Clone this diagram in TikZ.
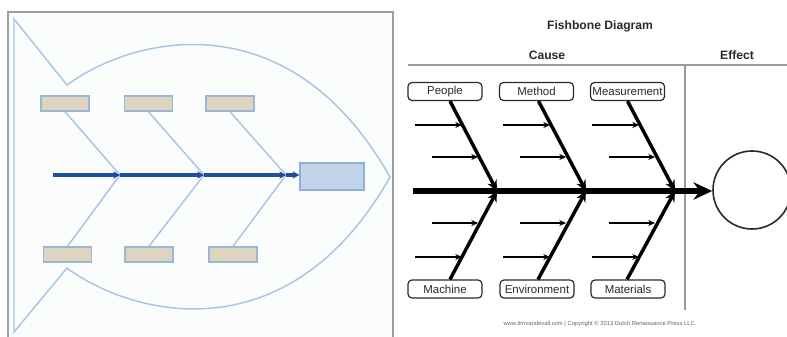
\documentclass[tikz,border=0pt]{standalone}
\usepackage{fontspec}
\setmainfont{Liberation Sans}
\usetikzlibrary{arrows.meta,calc}
\definecolor{fishline}{HTML}{A9C4E4}
\definecolor{spineblue}{HTML}{1F4E9C}
\definecolor{tanfill}{HTML}{DDD5BF}
\definecolor{tanedge}{HTML}{9DB6D6}
\definecolor{effill}{HTML}{C3D4EA}
\definecolor{efedge}{HTML}{8EB0DC}
\definecolor{panelbg}{HTML}{FBFCFC}
\definecolor{txt}{HTML}{2A2A2A}
\tikzset{
  tanbox/.style={draw=tanedge,fill=tanfill,line width=1.1pt,minimum width=36pt,minimum height=11.25pt,inner sep=0pt},
  effbox/.style={draw=efedge,fill=effill,line width=1.1pt,minimum width=48pt,minimum height=20.25pt,inner sep=0pt},
  fishbone/.style={draw=fishline,line width=1.1pt},
  bluespine/.style={draw=spineblue,line width=2.4pt,-{Stealth[length=5pt,width=5.5pt]}},
  catbox/.style={draw=txt,rounded corners=3pt,line width=0.9pt,minimum width=55.5pt,minimum height=13.5pt,inner sep=0pt,font=\fontsize{8.6}{9}\selectfont,text=txt},
  bigbone/.style={line width=2.6pt,-{Stealth[length=8pt,width=7.5pt]}},
  smallarrow/.style={line width=1.3pt,-{Stealth[length=5pt,width=4.5pt]}},
  ttl/.style={font=\bfseries\fontsize{9.1}{10}\selectfont,text=txt},
  rule/.style={draw=gray!80,line width=1.1pt}
}
\begin{document}
\begin{tikzpicture}[x=0.75pt,y=-0.75pt]
\useasboundingbox (0,0) rectangle (787,336);
\clip (0,0) rectangle (787,336);
\fill[white] (0,0) rectangle (787,336);
% ---------- left panel ----------
\draw[draw=gray!75,fill=panelbg,line width=1pt] (8,12) rectangle (393,345);
\draw[fishbone,line join=miter]
  (14,332) -- (14,19) -- (67,85)
  .. controls (135,35) and (290,0) .. (390,177)
  .. controls (290,354) and (135,318) .. (67,268) -- cycle;
\node[tanbox] (t1) at (65,103.5) {};
\node[tanbox] (t2) at (148.5,103.5) {};
\node[tanbox] (t3) at (230,103.5) {};
\node[tanbox] (u1) at (67.5,254.5) {};
\node[tanbox] (u2) at (149,254.5) {};
\node[tanbox] (u3) at (233,254.5) {};
\node[effbox] (eff) at (332,176.5) {};
\coordinate (s0) at (53,175);
\coordinate (j1) at (120,175);
\coordinate (j2) at (204,175);
\coordinate (j3) at (286,175);
\draw[fishbone] (t1.south) -- (j1);
\draw[fishbone] (t2.south) -- (j2);
\draw[fishbone] (t3.south) -- (j3);
\draw[fishbone] (u1.north) -- (j1);
\draw[fishbone] (u2.north) -- (j2);
\draw[fishbone] (u3.north) -- (j3);
\draw[bluespine] (s0) -- (j1);
\draw[bluespine] (j1) -- (j2);
\draw[bluespine] (j2) -- (j3);
\draw[bluespine] (j3) -- (eff.west |- j3);
% ---------- right panel ----------
\node[ttl] (title) at (600,26) {Fishbone Diagram};
\node[ttl] (cause) at (547,55) {Cause};
\node[ttl] (effect) at (737,55) {Effect};
\draw[rule] (408,65) -- (787,65);
\draw[rule] (685,65) -- (685,310);
\node[catbox] (people) at (445,91.5) {People};
\node[catbox] (method) at (536.5,91.5) {Method};
\node[catbox] (meas) at (627.5,91.5) {Measurement};
\node[catbox] (machine) at (445,289) {Machine};
\node[catbox] (env) at (537,289) {Environment};
\node[catbox] (mat) at (628,289) {Materials};
\node[draw=txt,circle,line width=1.2pt,minimum size=58.5pt,inner sep=0pt] (effc) at (752,190) {};
\coordinate (r0) at (413,191);
\coordinate (r1) at (497,191);
\coordinate (r2) at (586,191);
\coordinate (r3) at (675,191);
\draw[line width=4pt,-{Stealth[length=14pt,width=13pt]}] (r0) -- (effc.west |- r0);
\draw[bigbone] ($(people.south)+(5,0)$) -- (r1);
\draw[bigbone] ($(method.south)+(2,0)$) -- (r2);
\draw[bigbone] ($(meas.south)+(0,0)$) -- (r3);
\draw[bigbone] ($(machine.north)+(5,0)$) -- (r1);
\draw[bigbone] ($(env.north)+(1,0)$) -- (r2);
\draw[bigbone] ($(mat.north)+(-1,0)$) -- (r3);
\foreach \dx in {0,88,177}{
  \draw[smallarrow] (415+\dx,125) -- (462+\dx,125);
  \draw[smallarrow] (432+\dx,157) -- (478+\dx,157);
  \draw[smallarrow] (432+\dx,223) -- (478+\dx,223);
  \draw[smallarrow] (415+\dx,257) -- (462+\dx,257);
}
\node[font=\fontsize{4.4}{5}\selectfont,text=gray!80!black] (foot) at (600,324) {www.timvandevall.com | Copyright © 2013 Dutch Renaissance Press LLC.};
\end{tikzpicture}
\end{document}
